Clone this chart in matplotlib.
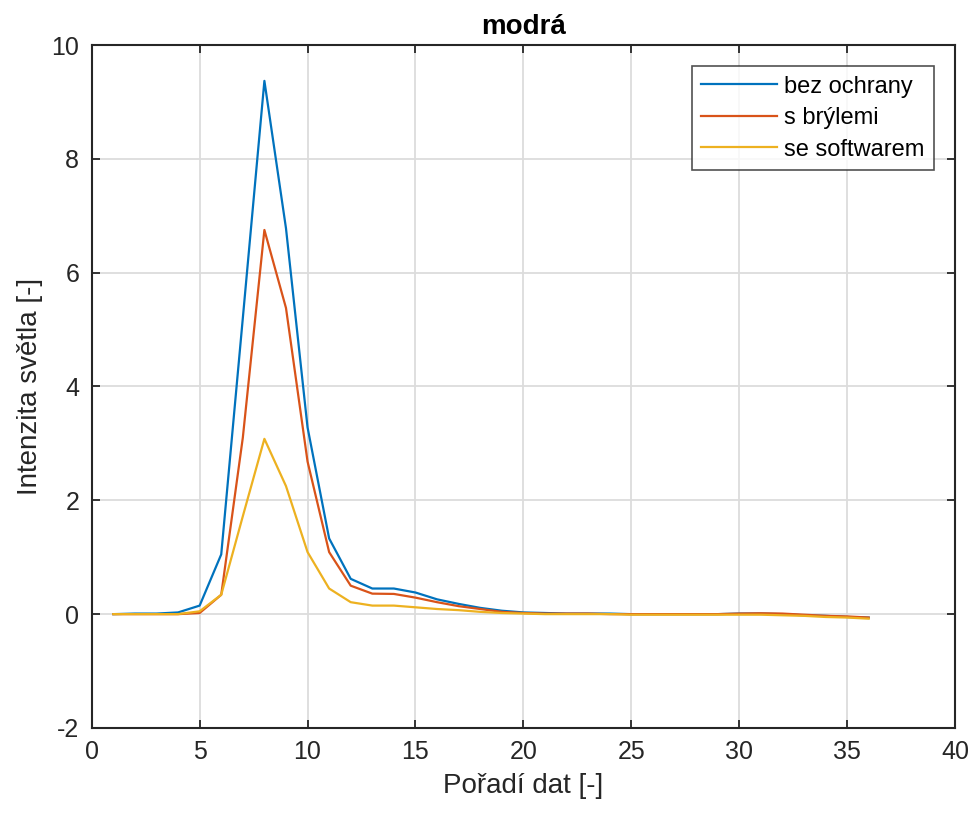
import numpy as np
import matplotlib
matplotlib.use("Agg")
import matplotlib.pyplot as plt

plt.rcParams["font.family"] = ["Liberation Sans", "DejaVu Sans"]
plt.rcParams["axes.unicode_minus"] = False

# data (x = 1..36)
x = np.arange(1, 37)
bez_ochrany = [0.0, 0.01, 0.01, 0.03, 0.15, 1.05, 5.2, 9.37, 6.78, 3.28,
               1.33, 0.62, 0.45, 0.45, 0.38, 0.26, 0.18, 0.11, 0.06, 0.03,
               0.02, 0.01, 0.01, 0.01, 0.0, 0.0, 0.0, 0.0, 0.0, 0.01,
               0.01, 0.0, -0.02, -0.03, -0.05, -0.06]
s_brylemi = [0.0, 0.0, 0.0, 0.0, 0.02, 0.34, 3.1, 6.75, 5.38, 2.68,
             1.09, 0.50, 0.36, 0.355, 0.29, 0.21, 0.14, 0.09, 0.04, 0.02,
             0.01, 0.01, 0.01, 0.0, 0.0, 0.0, 0.0, 0.0, 0.0, 0.01,
             0.015, 0.01, -0.01, -0.03, -0.04, -0.06]
se_softwarem = [0.0, 0.0, 0.0, 0.0, 0.05, 0.34, 1.72, 3.08, 2.25, 1.09,
                0.45, 0.21, 0.15, 0.15, 0.12, 0.09, 0.07, 0.04, 0.02, 0.01,
                0.0, 0.0, 0.0, 0.0, -0.01, -0.01, -0.01, -0.01, -0.01, -0.01,
                -0.01, -0.02, -0.03, -0.05, -0.06, -0.08]
labels = ["bez ochrany", "s brýlemi", "se softwarem"]
colors = ["#0072BD", "#D95319", "#EDB120"]

xticks = np.arange(0, 41, 5)
yticks = np.arange(-2, 11, 2)

fig = plt.figure(figsize=(9.76, 8.14), dpi=100)
ax = fig.add_axes([0.094, 0.1057, 0.8845, 0.839])

for y, lab, c in zip([bez_ochrany, s_brylemi, se_softwarem], labels, colors):
    ax.plot(x, y, color=c, linewidth=1.6, label=lab)

ax.set_xlim(0, 40)
ax.set_ylim(-2, 10)
ax.set_xticks(xticks)
ax.set_yticks(yticks)
ax.grid(True, color="#dcdcdc", linewidth=1.3)
ax.set_axisbelow(True)

axis_col = "#262626"
for sp in ax.spines.values():
    sp.set_color(axis_col)
    sp.set_linewidth(1.5)
ax.tick_params(direction="in", length=6, width=1.3, colors=axis_col,
               labelcolor="#262626", labelsize=18, top=True, right=True, pad=9)

ax.set_xlabel("Pořadí dat [-]", fontsize=20, color="#262626", labelpad=6)
ax.set_ylabel("Intenzita světla [-]", fontsize=20, color="#262626", labelpad=6)
ax.set_title("modrá", fontsize=20, fontweight="bold", pad=8)

leg = ax.legend(loc="upper right", fontsize=17, frameon=True, fancybox=False,
                edgecolor=axis_col, handlelength=3.2, handletextpad=0.3,
                labelspacing=0.4, borderaxespad=0.9, borderpad=0.4)
leg.get_frame().set_linewidth(1.2)

fig.savefig("out.png", dpi=100)
